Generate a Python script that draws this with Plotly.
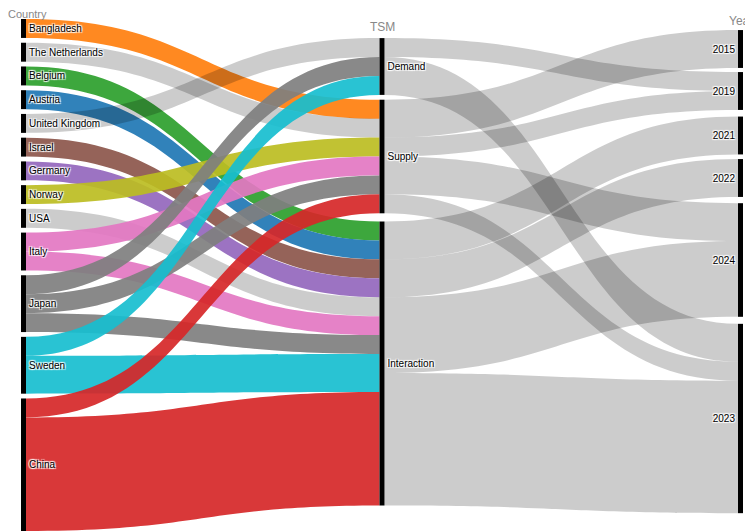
import plotly.graph_objects as go

# 노드 범주
countries = ["Bangladesh", "The Netherlands", "Belgium", "Austria", "United Kingdom", "Israel",
             "Germany", "Norway", "USA", "Italy", "Japan", "Sweden", "China"]
tsm = ["Demand", "Supply", "Interaction"]
years = ["2015", "2019", "2021", "2022", "2024", "2023"]

# Country -> TSM 링크
country_src = ["Bangladesh", "The Netherlands", "Belgium", "Austria", "United Kingdom", "Israel",
               "Germany", "Norway", "USA", "Italy", "Italy", "Japan", "Japan", "Japan",
               "Sweden", "Sweden", "China", "China"]
country_tgt = ["Supply", "Supply", "Interaction", "Interaction", "Demand", "Interaction",
               "Interaction", "Supply", "Interaction", "Supply", "Interaction", "Demand", "Supply", "Interaction",
               "Demand", "Interaction", "Supply", "Interaction"]
country_val = [1, 1, 1, 1, 1, 1, 1, 1, 1, 1, 1, 1, 1, 1, 1, 2, 1, 6]

# TSM -> Year 링크
tsm_src = ["Demand", "Demand", "Supply", "Supply", "Supply", "Supply",
           "Interaction", "Interaction", "Interaction", "Interaction"]
tsm_tgt = ["2019", "2023", "2015", "2019", "2024", "2023", "2021", "2022", "2024", "2023"]
tsm_val = [1, 2, 2, 1, 2, 1, 2, 2, 4, 7]

# 국가별 색상 (나머지는 기본 회색)
country_colors = {
    "Austria": "#1f77b4", "Bangladesh": "#ff7f0e", "Belgium": "#2ca02c", "China": "#d62728",
    "Germany": "#9467bd", "Israel": "#8c564b", "Italy": "#e377c2", "Japan": "#7f7f7f",
    "Norway": "#bcbd22", "Sweden": "#17becf",
}
GREY = "rgba(0,0,0,0.2)"

# 레이아웃 (픽셀) - 페이지 body 여백 8px 보정
BODY = 8
W, H = 745, 524
M = {"l": 13, "r": 10, "t": 11, "b": 1}
PAD, THICK = 4.8, 5
plot_w = W - M["l"] - M["r"]
plot_h = H - M["t"] - M["b"]
plot_left = M["l"] + BODY
plot_top = M["t"] + BODY
plot_bottom = H - M["b"] + BODY

# 중간/오른쪽 열 노드 중심 (페이지 y 픽셀)
tsm_center_px = [66.5, 156.5, 363.5]
year_center_px = [49, 91, 135.5, 178, 260, 418.5]


def hex_to_rgba(h, a):
    h = h.lstrip("#")
    return f"rgba({int(h[0:2], 16)},{int(h[2:4], 16)},{int(h[4:6], 16)},{a})"


labels = countries + tsm + years
idx = {name: i for i, name in enumerate(labels)}

# 국가 노드 크기 -> 첫 열은 위에서부터 차곡차곡
totals = {c: 0 for c in countries}
for s, v in zip(country_src, country_val):
    totals[s] += v
unit = (plot_h - (len(countries) - 1) * PAD) / sum(totals.values())
ys, top = [], 0.0
for c in countries:
    hgt = totals[c] * unit
    ys.append((top + hgt / 2) / plot_h)
    top += hgt + PAD
ys += [(p - plot_top) / plot_h for p in tsm_center_px]
ys += [(p - plot_top) / plot_h for p in year_center_px]

x_left = (THICK / 2) / plot_w
xs = [x_left] * len(countries) + [0.5] * len(tsm) + [1 - x_left] * len(years)

sources = [idx[s] for s in country_src] + [idx[s] for s in tsm_src]
targets = [idx[t] for t in country_tgt] + [idx[t] for t in tsm_tgt]
values = country_val + tsm_val
colors = [hex_to_rgba(country_colors[s], 0.92) if s in country_colors else GREY for s in country_src]
colors += [GREY] * len(tsm_src)

fig = go.Figure(
    go.Sankey(
        arrangement="fixed",
        node={
            "label": labels,
            "x": xs,
            "y": ys,
            "pad": PAD,
            "thickness": THICK,
            "color": "black",
            "line": {"width": 0},
        },
        link={"source": sources, "target": targets, "value": values, "color": colors},
        textfont={"family": "Arial", "size": 10, "color": "black"},
    )
)

# 차원 제목
title_font = {"family": "Arial", "size": 12, "color": "#888888"}
fig.add_annotation(
    text="Country",
    x=(BODY - plot_left) / plot_w,
    y=1 + (plot_top - BODY) / plot_h,
    xref="paper",
    yref="paper",
    xanchor="left",
    yanchor="top",
    showarrow=False,
    borderpad=0,
    borderwidth=0,
    font={**title_font, "size": 11},
)
for text, xf, bottom_px in [("TSM", 0.5, 36), ("Year", 1 - x_left, 30)]:
    fig.add_annotation(
        text=text,
        x=xf,
        y=(plot_bottom - bottom_px) / plot_h,
        xref="paper",
        yref="paper",
        xanchor="center",
        yanchor="bottom",
        showarrow=False,
        font=title_font,
    )

fig.update_layout(
    width=W,
    height=H,
    margin=M,
    paper_bgcolor="white",
    plot_bgcolor="white",
)

fig.write_html("out.html")
